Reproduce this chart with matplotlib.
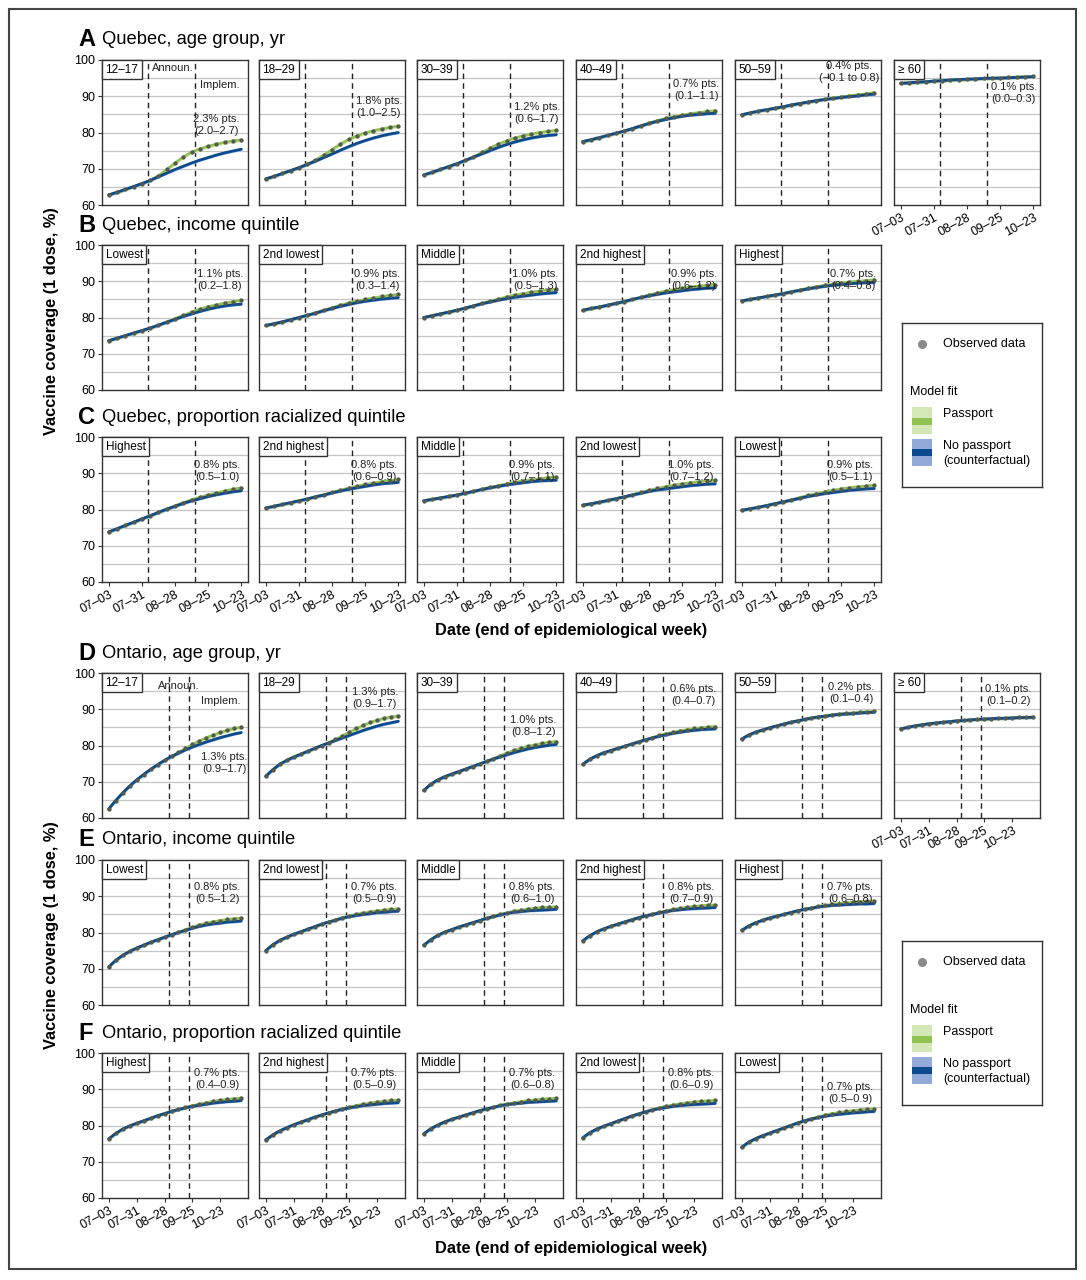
import matplotlib
matplotlib.use('Agg')
import matplotlib.pyplot as plt
from matplotlib.offsetbox import AnchoredText
from matplotlib.patches import Rectangle

plt.rcParams['font.family'] = ['Liberation Sans', 'DejaVu Sans']

W, H = 1086, 1280

# ---------------- data ----------------
qc_days = [0, 7, 14, 21, 28, 35, 42, 49, 56, 63, 70, 77, 84, 91, 98, 105, 112]
on_days = [0, 7, 14, 21, 28, 35, 42, 49, 56, 63, 70, 77, 84, 91, 98, 105, 112, 119, 126, 133]
tick_days = [0, 28, 56, 84, 112]
tick_labels = ['07–03', '07–31', '08–28', '09–25', '10–23']
qc_events = [33, 73]
on_events = [60, 81]

# Quebec, age group
qc_age_labels = ['12–17', '18–29', '30–39', '40–49', '50–59', '≥ 60']
qc_age_obs = [
    [62.8, 63.5, 64.3, 65.1, 65.9, 66.8, 68.1, 69.8, 71.6, 73.3, 74.6, 75.5, 76.2, 76.8, 77.3, 77.7, 78.0],
    [67.2, 67.9, 68.7, 69.5, 70.3, 71.2, 72.4, 73.8, 75.3, 76.8, 78.1, 79.1, 79.9, 80.5, 81.0, 81.4, 81.8],
    [68.3, 69.0, 69.8, 70.6, 71.4, 72.3, 73.3, 74.5, 75.7, 76.8, 77.7, 78.5, 79.1, 79.6, 80.0, 80.3, 80.6],
    [77.5, 78.0, 78.6, 79.2, 79.8, 80.4, 81.1, 81.9, 82.6, 83.3, 83.9, 84.4, 84.8, 85.2, 85.5, 85.8, 86.0],
    [84.9, 85.4, 85.9, 86.3, 86.7, 87.1, 87.6, 88.0, 88.4, 88.8, 89.2, 89.5, 89.8, 90.1, 90.4, 90.7, 91.0],
    [93.6, 93.7, 93.9, 94.0, 94.2, 94.3, 94.5, 94.6, 94.7, 94.8, 94.9, 95.0, 95.1, 95.2, 95.3, 95.4, 95.5],
]
qc_age_cf = [
    [62.8, 63.5, 64.3, 65.1, 65.9, 66.8, 67.8, 68.8, 69.8, 70.7, 71.6, 72.4, 73.1, 73.8, 74.4, 74.9, 75.4],
    [67.2, 67.9, 68.7, 69.5, 70.3, 71.2, 72.1, 73.1, 74.1, 75.1, 76.1, 77.0, 77.8, 78.5, 79.1, 79.6, 80.0],
    [68.3, 69.0, 69.8, 70.6, 71.4, 72.3, 73.2, 74.1, 75.0, 75.9, 76.7, 77.4, 78.0, 78.5, 78.9, 79.2, 79.4],
    [77.5, 78.0, 78.6, 79.2, 79.8, 80.4, 81.1, 81.8, 82.5, 83.1, 83.6, 84.1, 84.5, 84.8, 85.0, 85.2, 85.3],
    [84.9, 85.4, 85.9, 86.3, 86.7, 87.1, 87.6, 88.0, 88.4, 88.8, 89.1, 89.4, 89.7, 89.9, 90.1, 90.4, 90.6],
    [93.6, 93.7, 93.9, 94.0, 94.2, 94.3, 94.5, 94.6, 94.7, 94.8, 94.9, 95.0, 95.0, 95.1, 95.2, 95.3, 95.4],
]
qc_age_effect = ['2.3% pts.\n(2.0–2.7)', '1.8% pts.\n(1.0–2.5)', '1.2% pts.\n(0.6–1.7)',
                 '0.7% pts.\n(0.1–1.1)', '0.4% pts.\n(−0.1 to 0.8)', '0.1% pts.\n(0.0–0.3)']
qc_age_lab_xy = [(90.6, 82.1), (95.5, 87.0), (95.5, 85.5), (96.0, 91.6), (91.0, 96.8), (95.5, 91.0)]

# Quebec, income quintile
qc_inc_labels = ['Lowest', '2nd lowest', 'Middle', '2nd highest', 'Highest']
qc_inc_obs = [
    [73.6, 74.3, 75.0, 75.7, 76.4, 77.1, 77.9, 78.8, 79.7, 80.6, 81.5, 82.3, 83.0, 83.5, 84.0, 84.4, 84.8],
    [77.8, 78.3, 78.8, 79.4, 80.0, 80.6, 81.3, 82.0, 82.7, 83.4, 84.0, 84.5, 85.0, 85.4, 85.8, 86.1, 86.4],
    [80.0, 80.5, 81.0, 81.5, 82.0, 82.6, 83.2, 83.9, 84.5, 85.1, 85.7, 86.2, 86.6, 87.0, 87.3, 87.6, 87.8],
    [82.0, 82.5, 82.9, 83.4, 83.9, 84.4, 85.0, 85.6, 86.2, 86.8, 87.3, 87.7, 88.1, 88.4, 88.7, 88.9, 89.1],
    [84.6, 85.0, 85.4, 85.8, 86.2, 86.6, 87.1, 87.6, 88.1, 88.5, 88.9, 89.2, 89.5, 89.8, 90.0, 90.2, 90.4],
]
qc_inc_cf = [
    [73.6, 74.3, 75.0, 75.7, 76.4, 77.1, 77.9, 78.7, 79.5, 80.3, 81.0, 81.7, 82.3, 82.8, 83.2, 83.5, 83.7],
    [77.8, 78.3, 78.8, 79.4, 80.0, 80.6, 81.2, 81.9, 82.5, 83.1, 83.6, 84.1, 84.5, 84.8, 85.1, 85.3, 85.5],
    [80.0, 80.5, 81.0, 81.5, 82.0, 82.6, 83.2, 83.8, 84.3, 84.8, 85.2, 85.6, 85.9, 86.2, 86.5, 86.7, 86.9],
    [82.0, 82.5, 82.9, 83.4, 83.9, 84.4, 85.0, 85.5, 86.0, 86.4, 86.8, 87.1, 87.4, 87.7, 87.9, 88.1, 88.2],
    [84.6, 85.0, 85.4, 85.8, 86.2, 86.6, 87.1, 87.5, 87.9, 88.3, 88.6, 88.9, 89.1, 89.3, 89.5, 89.6, 89.7],
]
qc_inc_effect = ['1.1% pts.\n(0.2–1.8)', '0.9% pts.\n(0.3–1.4)', '1.0% pts.\n(0.5–1.3)',
                 '0.9% pts.\n(0.6–1.2)', '0.7% pts.\n(0.4–0.8)']
qc_inc_lab_xy = [(94.0, 90.3), (94.0, 90.3), (94.0, 90.3), (94.0, 90.3), (94.0, 90.3)]

# Quebec, proportion racialized quintile
qc_rac_labels = ['Highest', '2nd highest', 'Middle', '2nd lowest', 'Lowest']
qc_rac_obs = [
    [73.8, 74.7, 75.6, 76.5, 77.4, 78.3, 79.2, 80.1, 81.0, 81.9, 82.7, 83.4, 84.0, 84.6, 85.1, 85.6, 86.0],
    [80.4, 80.9, 81.4, 81.9, 82.4, 82.9, 83.5, 84.1, 84.7, 85.3, 85.9, 86.4, 86.9, 87.3, 87.7, 88.0, 88.3],
    [82.4, 82.8, 83.2, 83.6, 84.0, 84.5, 85.0, 85.6, 86.1, 86.6, 87.1, 87.5, 87.9, 88.2, 88.5, 88.8, 89.0],
    [81.2, 81.6, 82.0, 82.5, 83.0, 83.5, 84.1, 84.7, 85.3, 85.8, 86.3, 86.7, 87.1, 87.4, 87.7, 87.9, 88.1],
    [79.8, 80.2, 80.6, 81.1, 81.6, 82.1, 82.7, 83.3, 83.9, 84.4, 84.9, 85.3, 85.7, 86.0, 86.3, 86.5, 86.7],
]
qc_rac_cf = [
    [73.8, 74.7, 75.6, 76.5, 77.4, 78.3, 79.2, 80.1, 80.9, 81.7, 82.4, 83.0, 83.6, 84.1, 84.5, 84.9, 85.2],
    [80.4, 80.9, 81.4, 81.9, 82.4, 82.9, 83.5, 84.0, 84.6, 85.1, 85.6, 86.0, 86.4, 86.8, 87.1, 87.3, 87.5],
    [82.4, 82.8, 83.2, 83.6, 84.0, 84.5, 85.0, 85.5, 86.0, 86.4, 86.8, 87.1, 87.4, 87.7, 87.9, 88.0, 88.1],
    [81.2, 81.6, 82.0, 82.5, 83.0, 83.5, 84.0, 84.5, 85.0, 85.4, 85.7, 86.0, 86.3, 86.6, 86.8, 87.0, 87.1],
    [79.8, 80.2, 80.6, 81.1, 81.6, 82.1, 82.6, 83.1, 83.6, 84.0, 84.4, 84.7, 85.0, 85.3, 85.5, 85.7, 85.8],
]
qc_rac_effect = ['0.8% pts.\n(0.5–1.0)', '0.8% pts.\n(0.6–0.9)', '0.9% pts.\n(0.7–1.1)',
                 '1.0% pts.\n(0.7–1.2)', '0.9% pts.\n(0.5–1.1)']
qc_rac_lab_xy = [(91.5, 90.7), (91.5, 90.7), (91.5, 90.7), (91.5, 90.7), (91.5, 90.7)]

# Ontario, age group
on_age_labels = ['12–17', '18–29', '30–39', '40–49', '50–59', '≥ 60']
on_age_obs = [
    [62.5, 64.8, 66.9, 68.8, 70.5, 72.0, 73.4, 74.7, 75.9, 77.0, 78.1, 79.2, 80.3, 81.3, 82.2, 82.9, 83.6, 84.2, 84.7, 85.1],
    [71.5, 73.3, 74.8, 75.9, 76.8, 77.6, 78.4, 79.2, 80.0, 80.8, 81.7, 82.7, 83.7, 84.7, 85.6, 86.4, 87.0, 87.5, 87.9, 88.2],
    [67.6, 69.3, 70.5, 71.4, 72.1, 72.8, 73.5, 74.2, 74.9, 75.6, 76.4, 77.2, 78.0, 78.7, 79.3, 79.8, 80.2, 80.6, 80.9, 81.1],
    [74.8, 76.2, 77.2, 78.0, 78.6, 79.2, 79.8, 80.4, 81.0, 81.6, 82.2, 82.8, 83.3, 83.7, 84.1, 84.4, 84.7, 84.9, 85.1, 85.2],
    [81.8, 82.9, 83.7, 84.3, 84.9, 85.4, 85.9, 86.4, 86.8, 87.2, 87.6, 87.9, 88.2, 88.5, 88.7, 88.9, 89.0, 89.2, 89.3, 89.4],
    [84.6, 85.0, 85.4, 85.7, 86.0, 86.2, 86.4, 86.6, 86.8, 86.9, 87.1, 87.2, 87.3, 87.4, 87.5, 87.6, 87.7, 87.8, 87.8, 87.9],
]
on_age_cf = [
    [62.5, 64.8, 66.9, 68.8, 70.5, 72.0, 73.4, 74.7, 75.9, 77.0, 77.9, 78.8, 79.6, 80.3, 81.0, 81.6, 82.2, 82.7, 83.2, 83.6],
    [71.5, 73.3, 74.8, 75.9, 76.8, 77.6, 78.4, 79.2, 80.0, 80.7, 81.4, 82.1, 82.8, 83.5, 84.2, 84.8, 85.4, 85.9, 86.3, 86.7],
    [67.6, 69.3, 70.5, 71.4, 72.1, 72.8, 73.5, 74.2, 74.9, 75.6, 76.3, 76.9, 77.5, 78.1, 78.6, 79.1, 79.5, 79.8, 80.1, 80.3],
    [74.8, 76.2, 77.2, 78.0, 78.6, 79.2, 79.8, 80.4, 81.0, 81.6, 82.1, 82.6, 83.0, 83.4, 83.7, 84.0, 84.2, 84.4, 84.5, 84.6],
    [81.8, 82.9, 83.7, 84.3, 84.9, 85.4, 85.9, 86.4, 86.8, 87.2, 87.6, 87.9, 88.1, 88.4, 88.6, 88.7, 88.8, 89.0, 89.1, 89.2],
    [84.6, 85.0, 85.4, 85.7, 86.0, 86.2, 86.4, 86.6, 86.8, 86.9, 87.1, 87.2, 87.3, 87.4, 87.5, 87.5, 87.6, 87.7, 87.7, 87.8],
]
on_age_effect = ['1.3% pts.\n(0.9–1.7)', '1.3% pts.\n(0.9–1.7)', '1.0% pts.\n(0.8–1.2)',
                 '0.6% pts.\n(0.4–0.7)', '0.2% pts.\n(0.1–0.4)', '0.1% pts.\n(0.1–0.2)']
on_age_lab_xy = [(116.0, 75.3), (109.5, 93.2), (110.0, 85.5), (111.0, 93.8), (110.0, 94.6), (108.0, 93.8)]

# Ontario, income quintile
on_inc_labels = ['Lowest', '2nd lowest', 'Middle', '2nd highest', 'Highest']
on_inc_obs = [
    [70.5, 72.3, 73.7, 74.8, 75.7, 76.5, 77.3, 78.0, 78.7, 79.4, 80.1, 80.8, 81.5, 82.1, 82.6, 83.0, 83.3, 83.6, 83.8, 84.0],
    [75.0, 76.6, 77.8, 78.7, 79.5, 80.2, 80.9, 81.6, 82.3, 82.9, 83.5, 84.1, 84.6, 85.0, 85.4, 85.7, 86.0, 86.2, 86.4, 86.5],
    [76.5, 78.0, 79.2, 80.1, 80.8, 81.5, 82.1, 82.7, 83.3, 83.9, 84.5, 85.0, 85.5, 85.9, 86.2, 86.5, 86.7, 86.9, 87.0, 87.1],
    [77.7, 79.1, 80.2, 81.0, 81.7, 82.3, 82.9, 83.5, 84.1, 84.6, 85.1, 85.6, 86.0, 86.4, 86.7, 87.0, 87.2, 87.4, 87.5, 87.6],
    [80.6, 81.8, 82.7, 83.4, 84.0, 84.5, 85.0, 85.5, 86.0, 86.4, 86.8, 87.2, 87.5, 87.8, 88.0, 88.2, 88.4, 88.5, 88.6, 88.7],
]
on_inc_cf = [
    [70.5, 72.3, 73.7, 74.8, 75.7, 76.5, 77.3, 78.0, 78.7, 79.4, 80.0, 80.6, 81.2, 81.7, 82.1, 82.4, 82.6, 82.9, 83.0, 83.2],
    [75.0, 76.6, 77.8, 78.7, 79.5, 80.2, 80.9, 81.6, 82.3, 82.9, 83.4, 84.0, 84.4, 84.7, 85.0, 85.2, 85.5, 85.6, 85.8, 85.9],
    [76.5, 78.0, 79.2, 80.1, 80.8, 81.5, 82.1, 82.7, 83.3, 83.9, 84.4, 84.9, 85.3, 85.6, 85.8, 86.0, 86.1, 86.2, 86.3, 86.4],
    [77.7, 79.1, 80.2, 81.0, 81.7, 82.3, 82.9, 83.5, 84.1, 84.6, 85.0, 85.4, 85.8, 86.1, 86.3, 86.5, 86.6, 86.7, 86.8, 86.9],
    [80.6, 81.8, 82.7, 83.4, 84.0, 84.5, 85.0, 85.5, 86.0, 86.4, 86.7, 87.1, 87.3, 87.5, 87.6, 87.7, 87.8, 87.9, 87.9, 88.0],
]
on_inc_effect = ['0.8% pts.\n(0.5–1.2)', '0.7% pts.\n(0.5–0.9)', '0.8% pts.\n(0.6–1.0)',
                 '0.8% pts.\n(0.7–0.9)', '0.7% pts.\n(0.6–0.8)']
on_inc_lab_xy = [(109.0, 91.0), (109.0, 91.0), (109.0, 91.0), (109.0, 91.0), (109.0, 91.0)]

# Ontario, proportion racialized quintile
on_rac_labels = ['Highest', '2nd highest', 'Middle', '2nd lowest', 'Lowest']
on_rac_obs = [
    [76.3, 77.8, 79.0, 79.9, 80.6, 81.3, 82.0, 82.7, 83.3, 83.9, 84.5, 85.0, 85.5, 85.9, 86.3, 86.7, 87.0, 87.2, 87.4, 87.6],
    [76.0, 77.4, 78.5, 79.4, 80.2, 80.9, 81.6, 82.3, 82.9, 83.5, 84.1, 84.6, 85.1, 85.5, 85.9, 86.2, 86.5, 86.7, 86.9, 87.0],
    [77.7, 79.1, 80.1, 81.0, 81.7, 82.3, 82.9, 83.5, 84.1, 84.6, 85.1, 85.6, 86.0, 86.3, 86.6, 86.9, 87.1, 87.3, 87.4, 87.5],
    [76.6, 78.0, 79.0, 79.8, 80.5, 81.2, 81.9, 82.6, 83.2, 83.8, 84.4, 84.9, 85.3, 85.7, 86.0, 86.3, 86.5, 86.7, 86.8, 86.9],
    [74.0, 75.4, 76.4, 77.2, 77.9, 78.6, 79.3, 80.0, 80.7, 81.3, 81.9, 82.4, 82.9, 83.3, 83.6, 83.9, 84.1, 84.3, 84.5, 84.6],
]
on_rac_cf = [
    [76.3, 77.8, 79.0, 79.9, 80.6, 81.3, 82.0, 82.7, 83.3, 83.9, 84.4, 84.9, 85.3, 85.6, 85.9, 86.2, 86.4, 86.6, 86.7, 86.9],
    [76.0, 77.4, 78.5, 79.4, 80.2, 80.9, 81.6, 82.3, 82.9, 83.5, 84.0, 84.5, 84.9, 85.2, 85.5, 85.7, 85.9, 86.1, 86.2, 86.3],
    [77.7, 79.1, 80.1, 81.0, 81.7, 82.3, 82.9, 83.5, 84.1, 84.6, 85.0, 85.5, 85.8, 86.0, 86.2, 86.4, 86.5, 86.6, 86.7, 86.8],
    [76.6, 78.0, 79.0, 79.8, 80.5, 81.2, 81.9, 82.6, 83.2, 83.8, 84.3, 84.7, 85.0, 85.3, 85.5, 85.7, 85.8, 85.9, 86.0, 86.1],
    [74.0, 75.4, 76.4, 77.2, 77.9, 78.6, 79.3, 80.0, 80.7, 81.3, 81.8, 82.2, 82.6, 82.9, 83.1, 83.3, 83.5, 83.6, 83.8, 83.9],
]
on_rac_effect = ['0.7% pts.\n(0.4–0.9)', '0.7% pts.\n(0.5–0.9)', '0.7% pts.\n(0.6–0.8)',
                 '0.8% pts.\n(0.6–0.9)', '0.7% pts.\n(0.5–0.9)']
on_rac_lab_xy = [(109.0, 92.7), (109.0, 92.7), (109.0, 92.7), (109.0, 92.7), (109.0, 89.1)]

# ---------------- style ----------------
BLUE = '#0b4a8e'
BLUE_BAND = '#93aad8'
GREEN = '#8fc251'
GREEN_BAND = '#d3e8b6'
DOT = '#55594f'
GRID = '#c6c6c6'
EDGE = '#333333'
PASS_HW = 0.55
CF_HW = 0.35

COL_LEFT = [102, 259, 417, 576, 735, 894]
PW, PH = 146, 145

fig = plt.figure(figsize=(W / 100, H / 100), dpi=100)


def add_ax(px, py):
    return fig.add_axes([px / W, 1 - (py + PH) / H, PW / W, PH / H])


def draw_panel(ax, days, obs, cf, events, strip, effect, lab_xy, show_x, show_y):
    xmax = days[-1]
    pad = 0.05 * xmax
    ax.set_xlim(-pad, xmax + pad)
    ax.set_ylim(60, 100)
    for g in [65, 70, 75, 80, 85, 90, 95]:
        ax.axhline(g, color=GRID, lw=0.9, zorder=0)
    for e in events:
        ax.axvline(e, color='#222222', lw=1.0, ls=(0, (4, 3)), zorder=1)
    lo_c = [v - CF_HW for v in cf]
    hi_c = [v + CF_HW for v in cf]
    lo_p = [v - PASS_HW for v in obs]
    hi_p = [v + PASS_HW for v in obs]
    ax.fill_between(days, lo_p, hi_p, color=GREEN_BAND, lw=0, zorder=2)
    ax.fill_between(days, lo_c, hi_c, color=BLUE_BAND, lw=0, zorder=2.5)
    ax.plot(days, obs, color=GREEN, lw=1.8, zorder=3, solid_capstyle='round')
    ax.plot(days, cf, color=BLUE, lw=2.0, zorder=3.5, solid_capstyle='round')
    ax.plot(days, obs, ls='none', marker='o', ms=2.1, color=DOT, mec=DOT, zorder=4)
    ax.text(lab_xy[0], lab_xy[1], effect, ha='center', va='center', fontsize=8,
            color='#222222', linespacing=1.25, zorder=5)
    at = AnchoredText(strip, loc='upper left', frameon=True, pad=0.3, borderpad=0,
                      prop=dict(size=8.5))
    at.patch.set_boxstyle('square,pad=0')
    at.patch.set_edgecolor(EDGE)
    at.patch.set_linewidth(1.0)
    ax.add_artist(at)
    for s in ax.spines.values():
        s.set_color(EDGE)
        s.set_linewidth(1.0)
    ax.set_yticks([60, 70, 80, 90, 100])
    ax.set_xticks(tick_days)
    ax.tick_params(axis='both', length=3, width=0.8, color=EDGE, labelsize=9, pad=2)
    if show_x:
        ax.set_xticklabels(tick_labels, rotation=28, ha='right', rotation_mode='anchor')
    else:
        ax.tick_params(axis='x', bottom=False, labelbottom=False)
    if not show_y:
        ax.tick_params(axis='y', left=False, labelleft=False)


def draw_group(row_top, labels, obs, cf, effects, lab_xy, days, events, show_x,
               x_last_only=False):
    axes = []
    for i in range(len(labels)):
        ax = add_ax(COL_LEFT[i], row_top)
        sx = show_x or (x_last_only and i == 5)
        draw_panel(ax, days, obs[i], cf[i], events, labels[i], effects[i], lab_xy[i],
                   sx, i == 0)
        axes.append(ax)
    return axes


def section_title(letter, text, row_top):
    y = 1 - (row_top - 20) / H
    fig.text(78 / W, y, letter, fontsize=17, fontweight='bold', va='center', ha='left')
    fig.text(102 / W, y, text, fontsize=13.2, va='center', ha='left')


ROWS = [60, 245, 437, 673, 860, 1053]

# Quebec
qa = draw_group(ROWS[0], qc_age_labels, qc_age_obs, qc_age_cf, qc_age_effect, qc_age_lab_xy,
                qc_days, qc_events, False, x_last_only=True)
draw_group(ROWS[1], qc_inc_labels, qc_inc_obs, qc_inc_cf, qc_inc_effect, qc_inc_lab_xy,
           qc_days, qc_events, False)
draw_group(ROWS[2], qc_rac_labels, qc_rac_obs, qc_rac_cf, qc_rac_effect, qc_rac_lab_xy,
           qc_days, qc_events, True)
# Ontario
oa = draw_group(ROWS[3], on_age_labels, on_age_obs, on_age_cf, on_age_effect, on_age_lab_xy,
                on_days, on_events, False, x_last_only=True)
draw_group(ROWS[4], on_inc_labels, on_inc_obs, on_inc_cf, on_inc_effect, on_inc_lab_xy,
           on_days, on_events, False)
draw_group(ROWS[5], on_rac_labels, on_rac_obs, on_rac_cf, on_rac_effect, on_rac_lab_xy,
           on_days, on_events, True)

# Announ./Implem. labels on first panels
qa[0].text(54.4, 97.8, 'Announ.', ha='center', va='center', fontsize=8, color='#222222')
qa[0].text(94.0, 93.2, 'Implem.', ha='center', va='center', fontsize=8, color='#222222')
oa[0].text(70.0, 96.5, 'Announ.', ha='center', va='center', fontsize=8, color='#222222')
oa[0].text(112.0, 92.3, 'Implem.', ha='center', va='center', fontsize=8, color='#222222')

section_title('A', 'Quebec, age group, yr', ROWS[0])
section_title('B', 'Quebec, income quintile', ROWS[1])
section_title('C', 'Quebec, proportion racialized quintile', ROWS[2])
section_title('D', 'Ontario, age group, yr', ROWS[3])
section_title('E', 'Ontario, income quintile', ROWS[4])
section_title('F', 'Ontario, proportion racialized quintile', ROWS[5])

# axis titles
for yc in [(60 + 583) / 2, (673 + 1198) / 2]:
    fig.text(52 / W, 1 - yc / H, 'Vaccine coverage (1 dose, %)', rotation=90,
             fontsize=11.8, fontweight='bold', ha='center', va='center')
for yc in [630, 1248]:
    fig.text(571 / W, 1 - yc / H, 'Date (end of epidemiological week)', fontsize=11.8,
             fontweight='bold', ha='center', va='center')


# legends
def draw_legend(top):
    lx, ly, lw, lh = 902, top, 140, 164
    lax = fig.add_axes([lx / W, 1 - (ly + lh) / H, lw / W, lh / H])
    lax.set_xlim(0, lw)
    lax.set_ylim(lh, 0)
    lax.set_xticks([])
    lax.set_yticks([])
    for s in lax.spines.values():
        s.set_color(EDGE)
        s.set_linewidth(1.0)
    lax.plot([20], [21], 'o', color='#8a8a8a', ms=5.5)
    lax.text(41, 21, 'Observed data', fontsize=9, va='center', ha='left')
    lax.text(8, 69, 'Model fit', fontsize=9, va='center', ha='left')
    lax.add_patch(Rectangle((10, 84), 20, 27, color=GREEN_BAND, lw=0))
    lax.add_patch(Rectangle((10, 95), 20, 7, color=GREEN, lw=0))
    lax.text(41, 91, 'Passport', fontsize=9, va='center', ha='left')
    lax.add_patch(Rectangle((10, 116), 20, 27, color=BLUE_BAND, lw=0))
    lax.add_patch(Rectangle((10, 126), 20, 7, color=BLUE, lw=0))
    lax.text(41, 123, 'No passport', fontsize=9, va='center', ha='left')
    lax.text(41, 138, '(counterfactual)', fontsize=9, va='center', ha='left')


draw_legend(323)
draw_legend(941)

# outer frame
fig.patches.append(Rectangle((9 / W, 1 - 1269 / H), (1076 - 9) / W, (1269 - 9) / H,
                             transform=fig.transFigure, fill=False, ec='#444444', lw=1.5))

fig.savefig('out.png', dpi=100)
